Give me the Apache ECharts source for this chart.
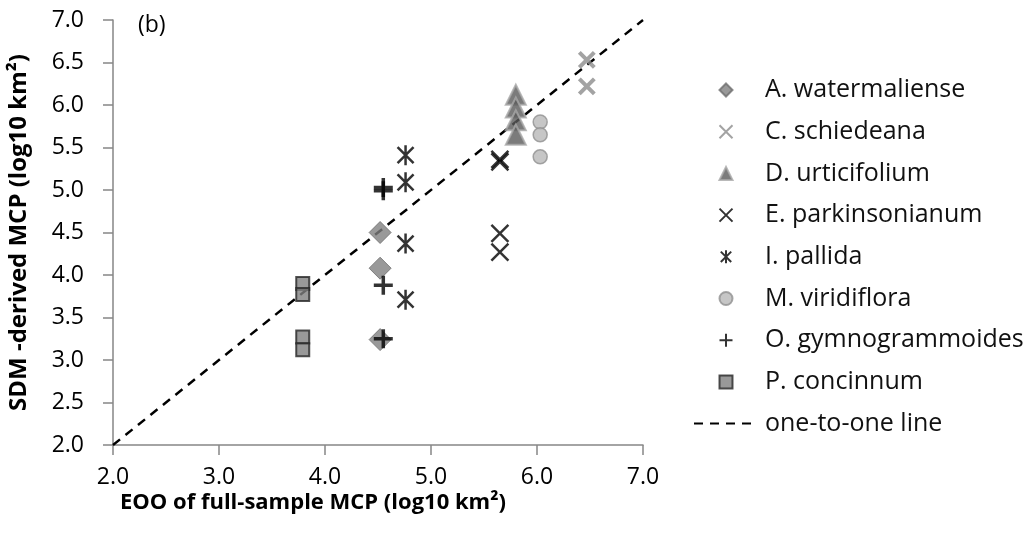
<!DOCTYPE html>
<html>
<head>
<meta charset="utf-8">
<script src="https://cdn.jsdelivr.net/npm/echarts@6/dist/echarts.min.js"></script>
<style>html,body{margin:0;padding:0;background:#fff;}#c{width:1032px;height:544px;}</style>
</head>
<body>
<div id="c"></div>
<script>
// ---- data (x = EOO of full-sample MCP, y = SDM-derived MCP; log10 km²) ----
const aWatermalienseX = [4.52, 4.52, 4.52];
const aWatermalienseY = [4.50, 4.08, 3.24];
const cSchiedeanaX = [6.47, 6.47];
const cSchiedeanaY = [6.53, 6.22];
const dUrticifoliumX = [5.80, 5.80, 5.80, 5.80];
const dUrticifoliumY = [6.12, 5.97, 5.82, 5.65];
const eParkinsonianumX = [5.65, 5.65, 5.65, 5.65];
const eParkinsonianumY = [5.36, 5.33, 4.49, 4.27];
const iPallidaX = [4.76, 4.76, 4.76, 4.76];
const iPallidaY = [5.41, 5.09, 4.37, 3.71];
const mViridifloraX = [6.03, 6.03, 6.03];
const mViridifloraY = [5.80, 5.65, 5.39];
const oGymnogrammoidesX = [4.55, 4.55, 4.55, 4.55];
const oGymnogrammoidesY = [5.03, 4.99, 3.88, 3.25];
const pConcinnumX = [3.79, 3.79, 3.79, 3.79];
const pConcinnumY = [3.90, 3.77, 3.27, 3.12];
const oneToOneX = [2, 7];
const oneToOneY = [2, 7];
const xTicks = [2, 3, 4, 5, 6, 7];
const yTicks = [2, 2.5, 3, 3.5, 4, 4.5, 5, 5.5, 6, 6.5, 7];
const seriesNames = ['A. watermaliense', 'C. schiedeana', 'D. urticifolium', 'E. parkinsonianum',
  'I. pallida', 'M. viridiflora', 'O. gymnogrammoides', 'P. concinnum', 'one-to-one line'];

const zip = (xs, ys) => xs.map((x, i) => [x, ys[i]]);
const FONT = 'Open Sans';
const crossPath = 'path://M0,0L10,10M10,0L0,10';
const plusPath = 'path://M5,0L5,10M0,5L10,5';
const starPath = 'path://M1,1L9,9M9,1L1,9M5,0L5,10';
const diamondPath = 'path://M5,0L10,5L5,10L0,5Z';
const trianglePath = 'path://M5,0L10,10L0,10Z';
const squarePath = 'path://M0,0L10,0L10,10L0,10Z';
const circlePath = 'path://M5,0A5,5,0,1,1,5,10A5,5,0,1,1,5,0Z';
const clear = 'rgba(0,0,0,0)';

function scatter(name, xs, ys, symbol, size, itemStyle) {
  return {
    name: name, type: 'scatter', data: zip(xs, ys), symbol: symbol, symbolSize: size,
    symbolKeepAspect: true,
    itemStyle: itemStyle, emphasis: { disabled: true }, z: 3
  };
}

const chart = echarts.init(document.getElementById('c'), null, { renderer: 'canvas' });
chart.setOption({
  animation: false,
  backgroundColor: '#ffffff',
  textStyle: { fontFamily: FONT },
  title: {
    text: '(b)', left: 133, top: 9,
    textStyle: { fontFamily: FONT, fontSize: 23, fontWeight: 'normal', color: '#000' }
  },
  grid: { left: 113, top: 20, width: 530, height: 425, containLabel: false, outerBoundsMode: 'none' },
  xAxis: {
    type: 'value', min: 2, max: 7, interval: 1,
    name: 'EOO of full-sample MCP (log10 km²)', nameLocation: 'middle', nameGap: 47,
    nameMoveOverlap: false,
    nameTextStyle: { fontFamily: FONT, fontSize: 22, fontWeight: 'bold', color: '#000', padding: [0, 130, 0, 0] },
    axisLine: { lineStyle: { color: '#868686', width: 1.5 } },
    axisTick: { show: true, length: 10, inside: false, lineStyle: { color: '#868686', width: 1.5 } },
    axisLabel: { margin: 21, fontFamily: FONT, fontSize: 23, color: '#000',
      formatter: v => xTicks.includes(v) ? v.toFixed(1) : '' },
    splitLine: { show: false }
  },
  yAxis: {
    type: 'value', min: 2, max: 7, interval: 0.5,
    name: 'SDM -derived MCP (log10 km²)', nameLocation: 'middle', nameGap: 82,
    nameMoveOverlap: false,
    nameTextStyle: { fontFamily: FONT, fontSize: 24, fontWeight: 'bold', color: '#000', padding: [0, 0, 0, 0] },
    axisLine: { lineStyle: { color: '#868686', width: 1.5 } },
    axisTick: { show: true, length: 10, inside: false, lineStyle: { color: '#868686', width: 1.5 } },
    axisLabel: { margin: 29, fontFamily: FONT, fontSize: 23, color: '#000',
      formatter: v => yTicks.includes(v) ? v.toFixed(1) : '' },
    splitLine: { show: false }
  },
  legend: {
    orient: 'vertical', left: 688, top: 72.5,
    itemWidth: 64, itemHeight: 13, itemGap: 16.7,
    symbolKeepAspect: true,
    data: seriesNames,
    textStyle: { fontFamily: FONT, fontSize: 25, color: '#111', padding: [0, 0, 0, 2] },
    selectedMode: false
  },
  series: [
    scatter(seriesNames[0], aWatermalienseX, aWatermalienseY, diamondPath, 22,
      { color: '#808080', borderColor: '#6e6e6e', borderWidth: 1 }),
    scatter(seriesNames[1], cSchiedeanaX, cSchiedeanaY, crossPath, 15,
      { color: clear, borderColor: '#8c8c8c', borderWidth: 4 }),
    scatter(seriesNames[2], dUrticifoliumX, dUrticifoliumY, trianglePath, 20,
      { color: '#5a5a5a', borderColor: '#a8a8a8', borderWidth: 2 }),
    scatter(seriesNames[3], eParkinsonianumX, eParkinsonianumY, crossPath, 17,
      { color: clear, borderColor: '#000', borderWidth: 2.5 }),
    scatter(seriesNames[4], iPallidaX, iPallidaY, starPath, 20,
      { color: clear, borderColor: '#000', borderWidth: 2.5 }),
    scatter(seriesNames[5], mViridifloraX, mViridifloraY, circlePath, 14,
      { color: '#b8b8b8', borderColor: '#909090', borderWidth: 1.5 }),
    scatter(seriesNames[6], oGymnogrammoidesX, oGymnogrammoidesY, plusPath, 19,
      { color: clear, borderColor: '#000', borderWidth: 3.5 }),
    scatter(seriesNames[7], pConcinnumX, pConcinnumY, squarePath, 13,
      { color: '#808080', borderColor: '#262626', borderWidth: 2 }),
    {
      name: seriesNames[8], type: 'line', data: zip(oneToOneX, oneToOneY),
      symbol: 'none', showSymbol: false, silent: true, z: 2,
      lineStyle: { color: '#000', width: 2.5, type: [9, 7] },
      itemStyle: { color: clear, borderWidth: 0 },
      emphasis: { disabled: true }
    }
  ]
});
</script>
</body>
</html>
